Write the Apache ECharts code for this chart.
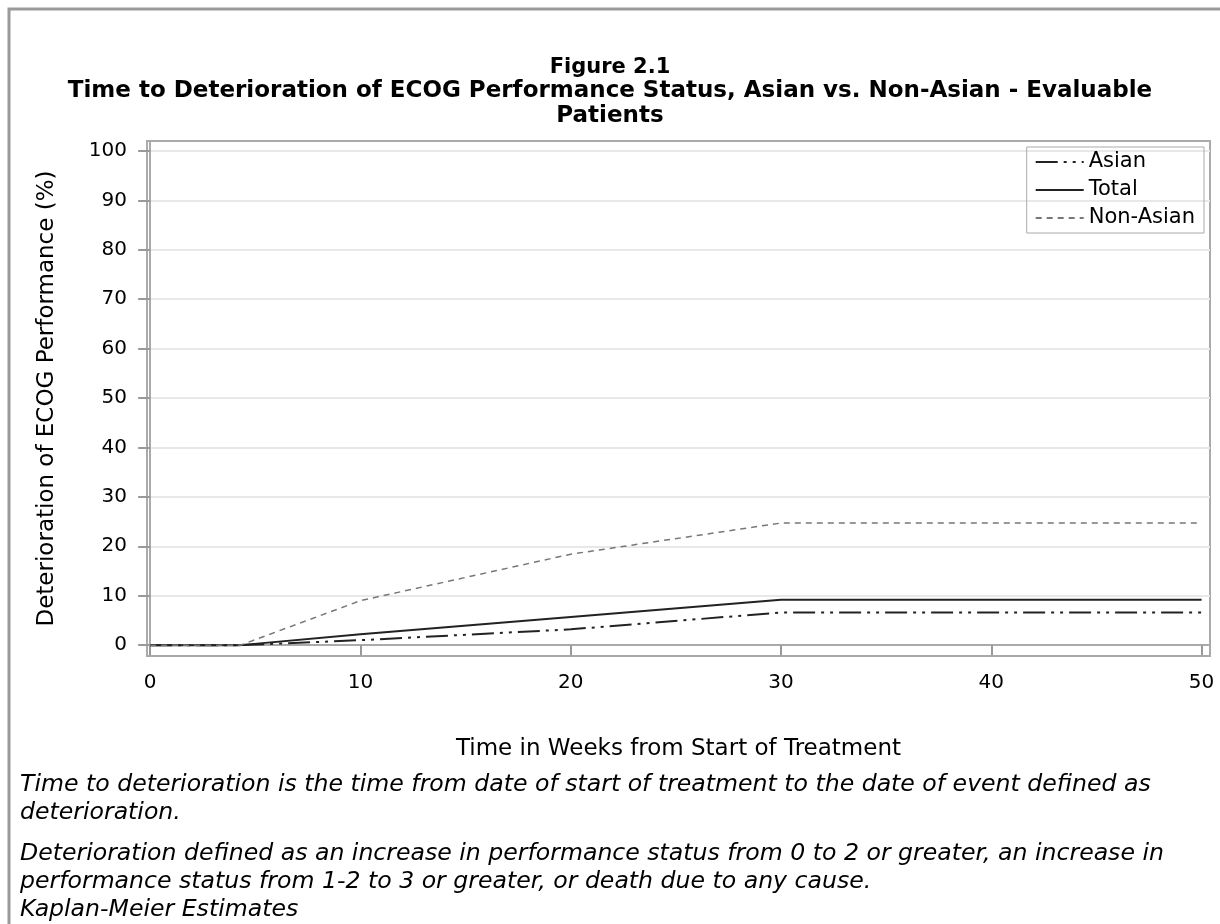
<!DOCTYPE html>
<html>
<head>
<meta charset="utf-8">
<script src="https://cdn.jsdelivr.net/npm/echarts@6/dist/echarts.min.js"></script>
<style>
    html, body { margin: 0; padding: 0; background: #fff; }
    #cha1 { width: 1220px; height: 924px; }
</style>
</head>
<body>
<div id="cha1"></div>
<script>
// 数据
var weeks    = [0, 4.3, 10, 20, 30, 50];
var asian    = [0, 0, 1.0, 3.2, 6.6, 6.6];
var total    = [0, 0, 2.2, 5.7, 9.2, 9.2];
var nonAsian = [0, 0, 9.0, 18.4, 24.7, 24.7];
var xTicks = [0, 10, 20, 30, 40, 50];
var yTicks = [0, 10, 20, 30, 40, 50, 60, 70, 80, 90, 100];
var notes = [
    'Time to deterioration is the time from date of start of treatment to the date of event defined as',
    'deterioration.',
    'Deterioration defined as an increase in performance status from 0 to 2 or greater, an increase in',
    'performance status from 1-2 to 3 or greater, or death due to any cause.',
    'Kaplan-Meier Estimates'
];

function pairs(ys) {
    return weeks.map(function (w, i) { return [w, ys[i]]; });
}

var WIDE = '"DejaVu Sans", "Liberation Sans", sans-serif';

var noteText = notes.map(function (t, i) {
    var y = [784, 812, 853, 881, 909][i];
    return {
        type: 'text',
        left: 20,
        top: y - 11,
        style: { text: t, font: 'italic 23.6px ' + WIDE, fill: '#000' }
    };
});

var myChart = echarts.init(document.getElementById('cha1'));

option = {
    animation: false,
    backgroundColor: '#fff',
    textStyle: { fontFamily: WIDE },
    title: [
        {
            text: 'Figure 2.1',
            left: 'center',
            top: 52,
            textStyle: { fontSize: 21, fontWeight: 'bold', color: '#000', fontFamily: WIDE }
        },
        {
            text: 'Time to Deterioration of ECOG Performance Status, Asian vs. Non-Asian - Evaluable',
            left: 'center',
            top: 75,
            textStyle: { fontSize: 23, fontWeight: 'bold', color: '#000', fontFamily: WIDE }
        },
        {
            text: 'Patients',
            left: 'center',
            top: 100,
            textStyle: { fontSize: 23, fontWeight: 'bold', color: '#000', fontFamily: WIDE }
        }
    ],
    legend: {
        orient: 'vertical',
        right: 16,
        top: 147,
        padding: [4, 9, 4, 8],
        itemGap: 6,
        itemWidth: 48,
        itemHeight: 16,
        borderColor: '#aaa',
        borderWidth: 1,
        itemStyle: { opacity: 0 },
        textStyle: { fontSize: 21, lineHeight: 22, color: '#000', fontFamily: WIDE },
        data: ['Asian', 'Total', 'Non-Asian']
    },
    grid: {
        left: 147,
        right: 10,
        top: 141,
        bottom: 268,
        show: true,
        borderColor: '#aaa',
        borderWidth: 2
    },
    xAxis: {
        type: 'value',
        min: -0.15,
        max: 50.4,
        name: 'Time in Weeks from Start of Treatment',
        nameLocation: 'middle',
        nameGap: 82,
        nameTextStyle: { fontSize: 23, color: '#000', fontFamily: WIDE },
        axisLine: { show: true, lineStyle: { color: '#aaa', width: 2 } },
        axisTick: { show: true, length: 10, customValues: xTicks, lineStyle: { color: '#999', width: 2 } },
        axisLabel: { customValues: xTicks, fontSize: 20, color: '#000', margin: 17, fontFamily: WIDE },
        splitLine: { show: false }
    },
    yAxis: {
        type: 'value',
        min: -2.2,
        max: 102,
        name: 'Deterioration of ECOG Performance (%)',
        nameLocation: 'middle',
        nameGap: 88,
        nameTextStyle: { fontSize: 23, color: '#000', fontFamily: WIDE },
        axisLine: { show: true, lineStyle: { color: '#aaa', width: 2 } },
        axisTick: { show: true, length: 12, customValues: yTicks, lineStyle: { color: '#999', width: 2 } },
        axisLabel: { customValues: yTicks, fontSize: 20, color: '#000', margin: 20, fontFamily: WIDE },
        splitLine: { show: true, lineStyle: { color: '#e8e8e8', width: 2 } }
    },
    graphic: [
        {
            type: 'rect',
            shape: { x: 9, y: 9, width: 1400, height: 1000 },
            style: { fill: 'none', stroke: '#9a9a9a', lineWidth: 3 },
            silent: true
        }
    ].concat(noteText),
    series: [
        {
            name: 'Asian',
            type: 'line',
            symbol: 'none',
            data: pairs(asian),
            lineStyle: { color: '#222', width: 2, type: [22, 6, 3, 6, 3, 6] },
            itemStyle: { color: '#222' }
        },
        {
            name: 'Total',
            type: 'line',
            symbol: 'none',
            data: pairs(total),
            lineStyle: { color: '#222', width: 2, type: 'solid' },
            itemStyle: { color: '#222' }
        },
        {
            name: 'Non-Asian',
            type: 'line',
            symbol: 'none',
            data: pairs(nonAsian),
            lineStyle: { color: '#777', width: 1.5, type: [6, 5] },
            itemStyle: { color: '#777' }
        }
    ]
};

myChart.setOption(option);
</script>
</body>
</html>
